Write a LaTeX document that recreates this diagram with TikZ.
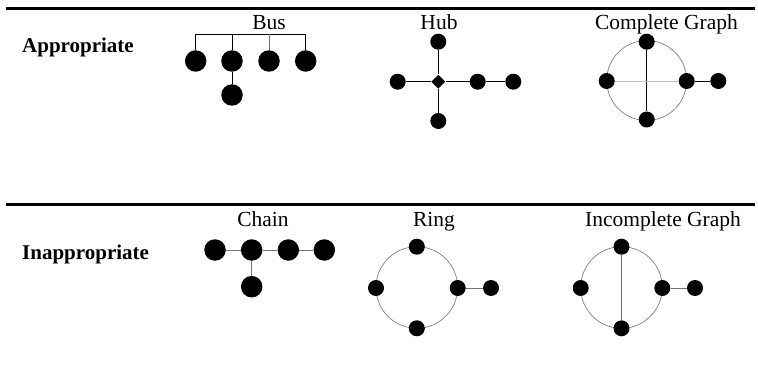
\documentclass[tikz,border=0pt]{standalone}
\usepackage{fontspec}
\setmainfont{Liberation Serif}
\usetikzlibrary{positioning,shapes.geometric}
\tikzset{
  bignode/.style={circle,fill=black,inner sep=0pt,minimum size=21.5pt},
  dotnode/.style={circle,fill=black,inner sep=0pt,minimum size=16pt},
  hubnode/.style={diamond,fill=black,inner sep=0pt,minimum size=14pt},
  link/.style={line width=0.9pt,black},
  greylink/.style={line width=0.9pt,black!55},
  palelink/.style={line width=0.9pt,black!25},
  ringline/.style={line width=0.7pt,black!50},
  rule/.style={line width=3pt},
  title/.style={font=\fontsize{21.5}{25}\selectfont,anchor=base},
  rowlabel/.style={font=\fontsize{21}{25}\selectfont\bfseries,anchor=base west,inner sep=0pt}
}
\begin{document}
\begin{tikzpicture}[x=1pt,y=-1pt]
\useasboundingbox (0,0) rectangle (758,385);
% rules and row labels
\coordinate (topL) at (6,9);
\coordinate (topR) at (755,9);
\coordinate (midL) at (6,204.5);
\coordinate (midR) at (755,204.5);
\draw[rule] (topL) -- (topR);
\draw[rule] (midL) -- (midR);
\node[rowlabel] (good) at (22,53) {Appropriate};
\node[rowlabel] (bad) at (22,259.5) {Inappropriate};
% Bus
\node[title] (tbus) at (269,30) {Bus};
\coordinate (busL) at (195.7,34);
\coordinate (busR) at (305.7,34);
\node[bignode] (b1) at (195.7,61) {};
\node[bignode] (b2) at (232,61) {};
\node[bignode] (b3) at (269,61) {};
\node[bignode] (b4) at (305.7,61) {};
\node[bignode] (b5) at (232,95) {};
\draw[link] (b1) -- (b1 |- busL) -- (busR) -- (b4);
\draw[link] (b2 |- busL) -- (b2) -- (b5);
\draw[greylink] (b3 |- busL) -- (b3);
% Hub
\node[title] (thub) at (439,30) {Hub};
\node[hubnode] (h0) at (438.3,81.7) {};
\node[dotnode] (h1) at (438.3,41.7) {};
\node[dotnode] (h2) at (438.3,121) {};
\node[dotnode] (h3) at (397.7,81.7) {};
\node[dotnode] (h4) at (477.7,81.7) {};
\node[dotnode] (h5) at (513.3,81.7) {};
\draw[link] (h0) -- (h1);
\draw[link] (h0) -- (h2);
\draw[link] (h0) -- (h3);
\draw[link] (h0) -- (h4) -- (h5);
% Complete Graph
\node[title] (tcomp) at (666.5,30) {Complete Graph};
\coordinate (cc) at (646.7,80.5);
\draw[ringline] (cc) circle (40);
\node[dotnode] (c1) at (646.7,41.7) {};
\node[dotnode] (c2) at (646.7,119.5) {};
\node[dotnode] (c3) at (606.7,81) {};
\node[dotnode] (c4) at (686.7,81) {};
\node[dotnode] (c5) at (718.3,81) {};
\draw[link] (c1) -- (c2);
\draw[palelink] (c3) -- (c4);
\draw[link] (c4) -- (c5);
% Chain
\node[title] (tchain) at (263,226.5) {Chain};
\node[bignode] (k1) at (215,250) {};
\node[bignode] (k2) at (251.7,250) {};
\node[bignode] (k3) at (288.3,250) {};
\node[bignode] (k4) at (324.3,250) {};
\node[bignode] (k5) at (251.7,286.7) {};
\draw[greylink] (k1) -- (k2) -- (k3) -- (k4);
\draw[greylink] (k2) -- (k5);
% Ring
\node[title] (tring) at (434,226.5) {Ring};
\coordinate (rc) at (416.8,287.5);
\draw[ringline] (rc) circle (40.8);
\node[dotnode] (r1) at (416.8,246.7) {};
\node[dotnode] (r2) at (416.8,328.3) {};
\node[dotnode] (r3) at (376,288) {};
\node[dotnode] (r4) at (457.7,288) {};
\node[dotnode] (r5) at (491,288) {};
\draw[greylink] (r4) -- (r5);
% Incomplete Graph
\node[title] (tinc) at (663,226.5) {Incomplete Graph};
\coordinate (ic) at (621.5,287.5);
\draw[ringline] (ic) circle (40.8);
\node[dotnode] (i1) at (621.5,246.7) {};
\node[dotnode] (i2) at (621.5,328.3) {};
\node[dotnode] (i3) at (580.7,288) {};
\node[dotnode] (i4) at (662.3,288) {};
\node[dotnode] (i5) at (695,288) {};
\draw[greylink] (i1) -- (i2);
\draw[greylink] (i4) -- (i5);
\end{tikzpicture}
\end{document}
